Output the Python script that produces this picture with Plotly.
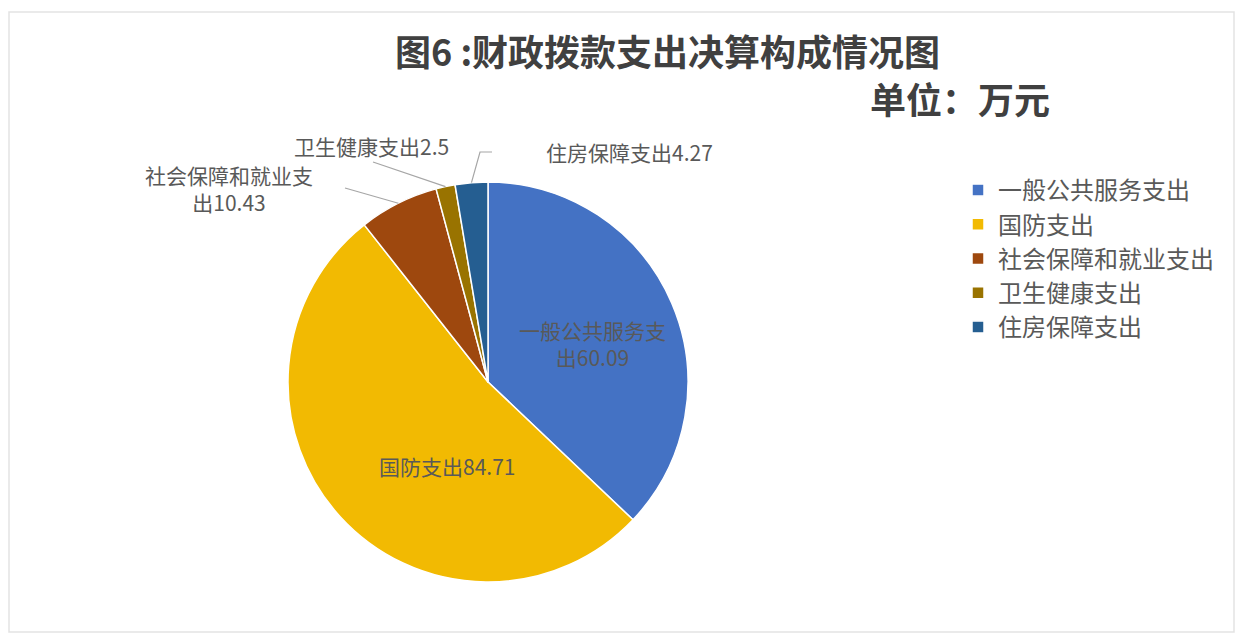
import math
import plotly.graph_objects as go

# ---- data ----
categories = ["一般公共服务支出", "国防支出", "社会保障和就业支出", "卫生健康支出", "住房保障支出"]
values = [60.09, 84.71, 10.43, 2.5, 4.27]
label_texts = ["一般公共服务支<br>出60.09", "国防支出84.71", "社会保障和就业支<br>出10.43",
               "卫生健康支出2.5", "住房保障支出4.27"]
colors = ["#4472C4", "#F2BA02", "#9E480E", "#997300", "#255E91"]

W, H = 1237, 634
CX, CY, R = 488, 382, 200  # pie geometry in pixels


def px(x):
    return x / W


def py(y):
    return 1 - y / H


fig = go.Figure()
fig.add_trace(go.Pie(
    labels=categories, values=values, sort=False, direction="clockwise", rotation=0,
    marker=dict(colors=colors, line=dict(color="white", width=1.5)),
    textinfo="none", hoverinfo="label+value",
    domain=dict(x=[px(CX - R), px(CX + R)], y=[py(CY + R), py(CY - R)]),
))

# label positions (pixel centers) and leader line start points
label_pos = [(592, 343), (447, 466), (229, 189), (371, 146), (629, 152)]
leader_start = [None, None, [(345, 188)], [(373, 162)], [(492, 152), (480, 152)]]

total = sum(values)
cum = 0
annotations = []
shapes = []
for i, v in enumerate(values):
    mid = (cum + v / 2) / total * 2 * math.pi
    cum += v
    lx, ly = label_pos[i]
    annotations.append(dict(x=px(lx), y=py(ly), xref="paper", yref="paper", text=label_texts[i],
                            showarrow=False, align="center", xanchor="center", yanchor="middle",
                            font=dict(family="Noto Sans CJK SC", size=21, color="#595959")))
    if leader_start[i]:
        ex = CX + R * math.sin(mid)
        ey = CY - R * math.cos(mid)
        pts = leader_start[i] + [(ex, ey)]
        path = "M " + " L ".join(f"{px(a):.5f},{py(b):.5f}" for a, b in pts)
        shapes.append(dict(type="path", path=path, xref="paper", yref="paper",
                           line=dict(color="#A6A6A6", width=1.2)))

annotations.append(dict(x=px(667), y=py(50), xref="paper", yref="paper", xanchor="center", yanchor="middle",
                        text="<b>图6 :财政拨款支出决算构成情况图</b>", showarrow=False,
                        font=dict(family="Noto Sans CJK SC", size=36, color="#404040")))
annotations.append(dict(x=px(960), y=py(98), xref="paper", yref="paper", xanchor="center", yanchor="middle",
                        text="<b>单位：万元</b>", showarrow=False,
                        font=dict(family="Noto Sans CJK SC", size=36, color="#404040")))

shapes.append(dict(type="rect", xref="paper", yref="paper", x0=px(9), x1=px(1234), y0=py(632), y1=py(12),
                   line=dict(color="#E3E3E3", width=1.5)))

fig.update_layout(
    width=W, height=H, margin=dict(l=0, r=0, t=0, b=0),
    paper_bgcolor="white", plot_bgcolor="white",
    annotations=annotations, shapes=shapes,
    legend=dict(x=px(958), y=py(168), xanchor="left", yanchor="top",
                font=dict(family="Noto Sans CJK SC", size=24, color="#595959"),
                itemwidth=30),
)

fig.write_html("out.html", config={"displayModeBar": False},
               post_script="document.body.style.margin='0';")
